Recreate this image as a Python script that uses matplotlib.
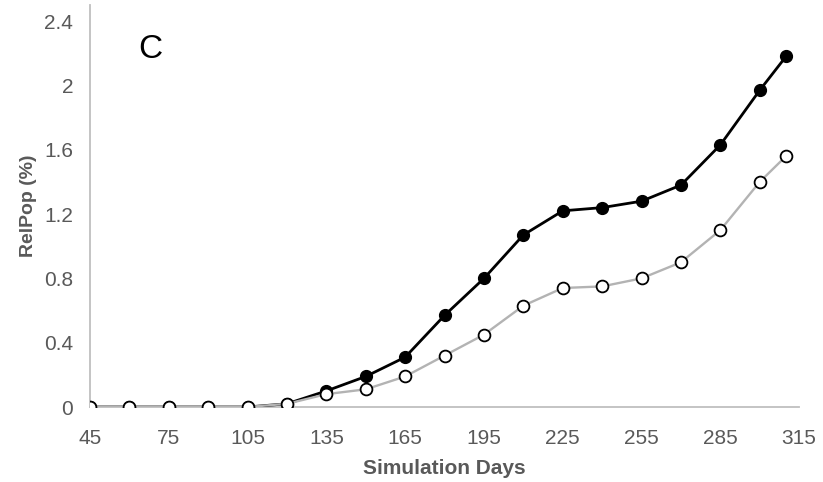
import matplotlib
matplotlib.use("Agg")
import matplotlib.pyplot as plt

# Simulation days and relative population (%) for the two scenarios
days = [45, 60, 75, 90, 105, 120, 135, 150, 165, 180, 195, 210, 225, 240, 255, 270, 285, 300, 310]
relpop_filled = [0, 0, 0, 0, 0, 0.02, 0.10, 0.19, 0.31, 0.57, 0.80, 1.07, 1.22, 1.24, 1.28, 1.38, 1.63, 1.97, 2.18]
relpop_open = [0, 0, 0, 0, 0, 0.02, 0.08, 0.11, 0.19, 0.32, 0.45, 0.63, 0.74, 0.75, 0.80, 0.90, 1.10, 1.40, 1.56]

x_ticks = [45, 75, 105, 135, 165, 195, 225, 255, 285, 315]
y_ticks = [0, 0.4, 0.8, 1.2, 1.6, 2.0, 2.4]
y_tick_labels = ["0", "0.4", "0.8", "1.2", "1.6", "2", "2.4"]

plt.rcParams["font.family"] = ["Liberation Sans", "DejaVu Sans"]
grey = "#595959"

fig = plt.figure(figsize=(8.23, 4.82), dpi=100)
ax = fig.add_axes([0.1094, 0.1556, 0.8616, 0.834])

ax.plot(days, relpop_filled, color="black", lw=2.0, marker="o", ms=8.5,
        mfc="black", mec="black", zorder=3)
ax.plot(days, relpop_open, color="#b3b3b3", lw=1.7, marker="o", ms=8.5,
        mfc="white", mec="black", mew=1.3, zorder=4)

ax.set_xlim(45, 315)
ax.set_ylim(0, 2.5)
ax.set_xticks(x_ticks)
ax.set_yticks(y_ticks)
ax.set_yticklabels(y_tick_labels)

for side in ("top", "right"):
    ax.spines[side].set_visible(False)
for side in ("left", "bottom"):
    ax.spines[side].set_color("#bfbfbf")
    ax.spines[side].set_linewidth(1.3)
    ax.spines[side].set_zorder(1)

ax.tick_params(axis="both", length=0, labelsize=15, labelcolor=grey)
ax.tick_params(axis="x", pad=16)
ax.tick_params(axis="y", pad=12)

ax.set_xlabel("Simulation Days", fontsize=15, fontweight="bold", color=grey, labelpad=8)
ax.set_ylabel("RelPop (%)", fontsize=14, fontweight="bold", color=grey, labelpad=5)

ax.text(0.085, 0.89, "C", fontsize=24, color="black", ha="center", va="center",
        transform=ax.transAxes)

fig.savefig("out.png", dpi=100)
